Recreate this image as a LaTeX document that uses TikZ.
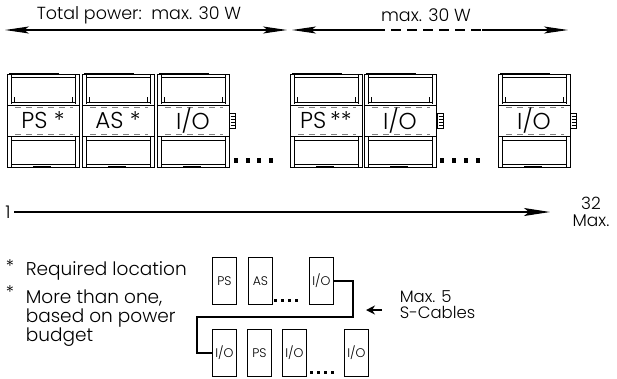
\documentclass[tikz,border=0pt]{standalone}
\usepackage{fontspec}
\setmainfont{Poppins}[UprightFont={* Light}]
\usetikzlibrary{arrows.meta}
\begin{document}
\begin{tikzpicture}[x=1pt,y=-1pt,line width=1pt,font=\fontsize{17.5}{19}\selectfont]
	\useasboundingbox (0,0)rectangle(617,378);
	\tikzset{
	longtip/.tip={Stealth[length=24pt,width=7pt,inset=5pt]},
	dimline/.style={line width=1.1pt},
	modlabel/.style={font=\fontsize{23}{24}\selectfont,inner sep=0pt},
	smallbox/.style={draw,line width=0.9pt,minimum width=24pt,minimum height=47pt,inner sep=0pt,anchor=north west,font=\fontsize{12.5}{14}\selectfont},
	cable/.style={line width=2.4pt},
	}
	\tikzset{Knob/.pic={
	\draw[line width=0.8pt](0,113)rectangle(6,128);
	\foreach \r in{116,119,122,125}
	\draw[line width=0.6pt](1.5,\r)--(6,\r);
	}}
	\path(139,15)node(tot){Total power:\ \ max. 30 W}(426,15)node(max2){max. 30 W};
	\coordinate(a1)at(5,30);\coordinate(a2)at(287,30);
	\coordinate(b1)at(292,30);\coordinate(b2)at(568,30);
	\coordinate(d1)at(375,30);\coordinate(d2)at(482,30);
	\draw[dimline,{longtip}-{longtip}](a1)--(a2);
	\draw[dimline,{longtip}-](b1)--(d1);
	\draw[dimline,dash pattern=on 10pt off 6pt](d1)--(d2);
	\draw[dimline,-{longtip}](d2)--(b2);
	\foreach \x/\lab/\nm in {7/{PS *}/ps,82/{AS *}/as,157/{I/O}/ioa,290/{PS\,**}/psb,364/{I/O}/iob,498/{I/O}/ioc}{
	\begin{scope}[shift={(\x,0)}]
	\draw(0,74)rectangle(72,167);
	\draw(4,74)--(4,104)(68,74)--(68,104)(4,137)--(4,167)(68,137)--(68,167);
	\draw(4,77)--(68,77);
	\draw[line width=1.8pt](4,102.5)--(68,102.5);
	\draw(7,97)--(7,102)(65,97)--(65,102);
	\draw(4,140)--(68,140)(4,164)--(68,164);
	\draw[line width=2pt](2,74)--(52,74)(26,167)--(44,167);
	\draw[fill=white](0,105)rectangle(72,136);
	\draw[gray,dash pattern=on 6pt off 5pt](8,107)--(66,107)(8,134)--(66,134);
	\node[modlabel](\nm)at(36,120.5){\lab};
	\end{scope}
	}
	\foreach \x in{229,437,570}
	\path(\x,0)pic{Knob};
	\foreach \x in{234,246,257,269,440,452,464,476}
	\fill(\x,158)rectangle++(3.5,5);
	\path(8,212)node(one){1}(591,212)node[align=center,font=\fontsize{17}{17}\selectfont](last){32\\Max.};
	\coordinate(e32)at(550,212);
	\draw[dimline,-{Stealth[length=26pt,width=8pt,inset=5pt]}](one.east)--(e32);
	\path(10,266)node(st1){*}(10,292)node(st2){*};
	\node[anchor=west](req)at(22,271){\fontsize{18.5}{19}\selectfont Required location};
	\node[anchor=north west,align=left,font=\fontsize{18.5}{19}\selectfont](more)at(22,286){More than one,\\based on power\\budget};
	\path(212,257)node[smallbox](psa){PS}(248,257)node[smallbox](asa){AS}(309,257)node[smallbox](io1){I/O};
	\path(212,329)node[smallbox](io2){I/O}(247,329)node[smallbox](psc){PS}(282,329)node[smallbox](io3){I/O}(344,329)node[smallbox](io4){I/O};
	\foreach \x in{274,281,288,295}
	\fill(\x,299)rectangle++(2.5,3);
	\foreach \x in{310,317,324,331}
	\fill(\x,371)rectangle++(2.5,3);
	\draw[cable](io1.east)--++(19,0)--++(0,36)-|([xshift=-15pt]io2.west)--(io2.west);
	\node[anchor=west,align=left,font=\fontsize{16.5}{16}\selectfont](cab)at(396,305){Max. 5\\S-Cables};
	\coordinate(tipc)at(366,310);
	\draw[cable,-{Stealth[length=9pt,width=9pt]}]([xshift=-14pt]cab.west|-tipc)--(tipc);
\end{tikzpicture}
\end{document}
